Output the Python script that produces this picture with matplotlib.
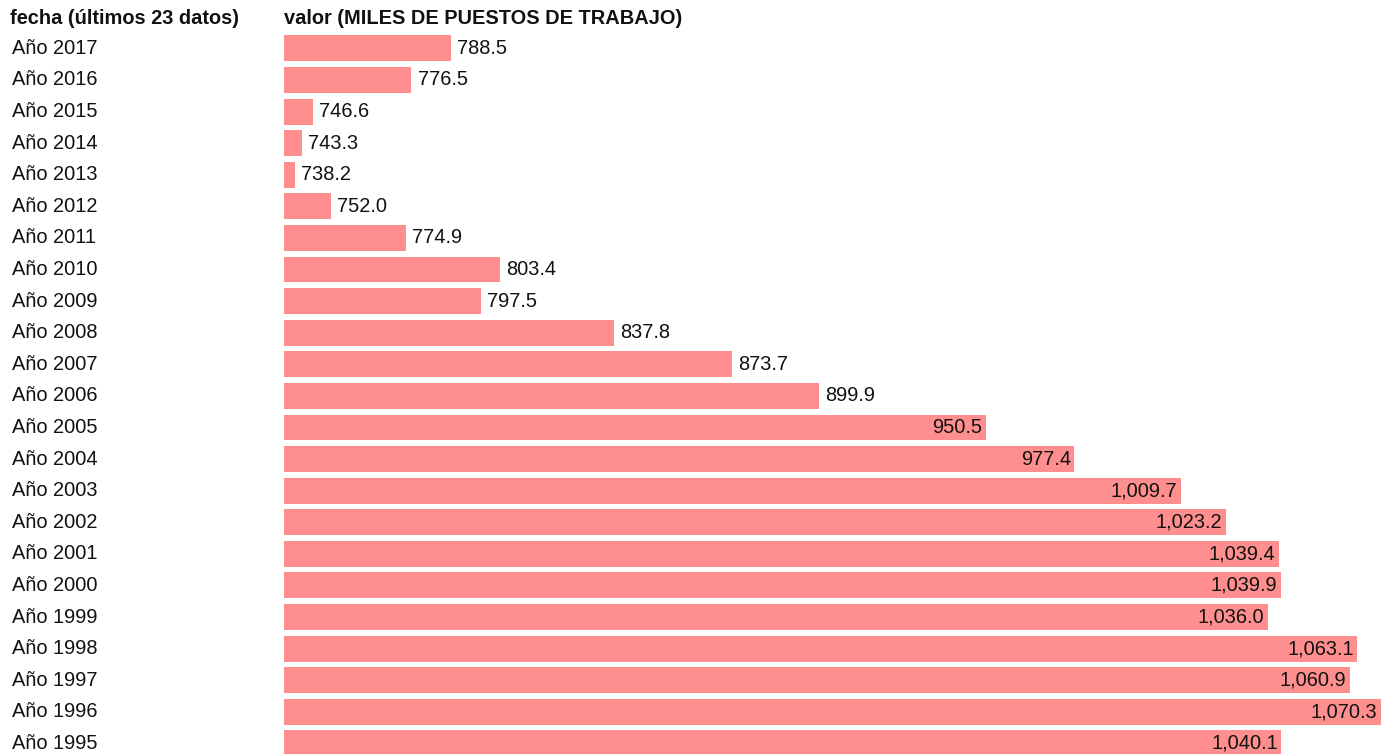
import matplotlib.pyplot as plt
from matplotlib.transforms import blended_transform_factory

years = [2017, 2016, 2015, 2014, 2013, 2012, 2011, 2010, 2009, 2008, 2007, 2006,
         2005, 2004, 2003, 2002, 2001, 2000, 1999, 1998, 1997, 1996, 1995]
values = [788.5, 776.5, 746.6, 743.3, 738.2, 752.0, 774.9, 803.4, 797.5, 837.8,
          873.7, 899.9, 950.5, 977.4, 1009.7, 1023.2, 1039.4, 1039.9, 1036.0,
          1063.1, 1060.9, 1070.3, 1040.1]
labels = ["Año {}".format(y) for y in years]

plt.rcParams['font.family'] = ['Liberation Sans', 'DejaVu Sans']

W, H = 1393, 754
fig = plt.figure(figsize=(W / 100, H / 100), dpi=100)

# axes box in pixels: left 284, right 1381, rows from y=32 to y=759
left, right = 284, 1381
top, bottom = 32.6, 759.2
ax = fig.add_axes([left / W, (H - bottom) / H, (right - left) / W, (bottom - top) / H])

xmin = 737.9
xmax = max(values)
min_width = 3.2
n = len(values)

for i, v in enumerate(values):
    w = max(v - xmin, min_width)
    ax.barh(i, w, left=xmin, height=0.82, color="#ff8f8f")
    txt = "{:,.1f}".format(v)
    if v > 925:
        ax.annotate(txt, (xmin + w, i), xytext=(-2.5, 0), textcoords="offset points",
                    ha="right", va="center", fontsize=14.4, color="#111111")
    else:
        ax.annotate(txt, (xmin + w, i), xytext=(4.5, 0), textcoords="offset points",
                    ha="left", va="center", fontsize=14.4, color="#111111")

ax.set_xlim(xmin, xmax)
ax.set_ylim(n - 0.5, -0.5)
ax.axis("off")

trans = blended_transform_factory(fig.transFigure, ax.transData)
for i, lab in enumerate(labels):
    ax.text(12 / W, i, lab, transform=trans, ha="left", va="center",
            fontsize=14.4, color="#111111", clip_on=False)

fig.text(10 / W, 1 - 19 / H, "fecha (últimos 23 datos)", ha="left", va="center",
         fontsize=14.4, fontweight="bold", color="#111111")
fig.text(284 / W, 1 - 19 / H, "valor (MILES DE PUESTOS DE TRABAJO)", ha="left",
         va="center", fontsize=14.4, fontweight="bold", color="#111111")

fig.savefig("out.png", dpi=100)
